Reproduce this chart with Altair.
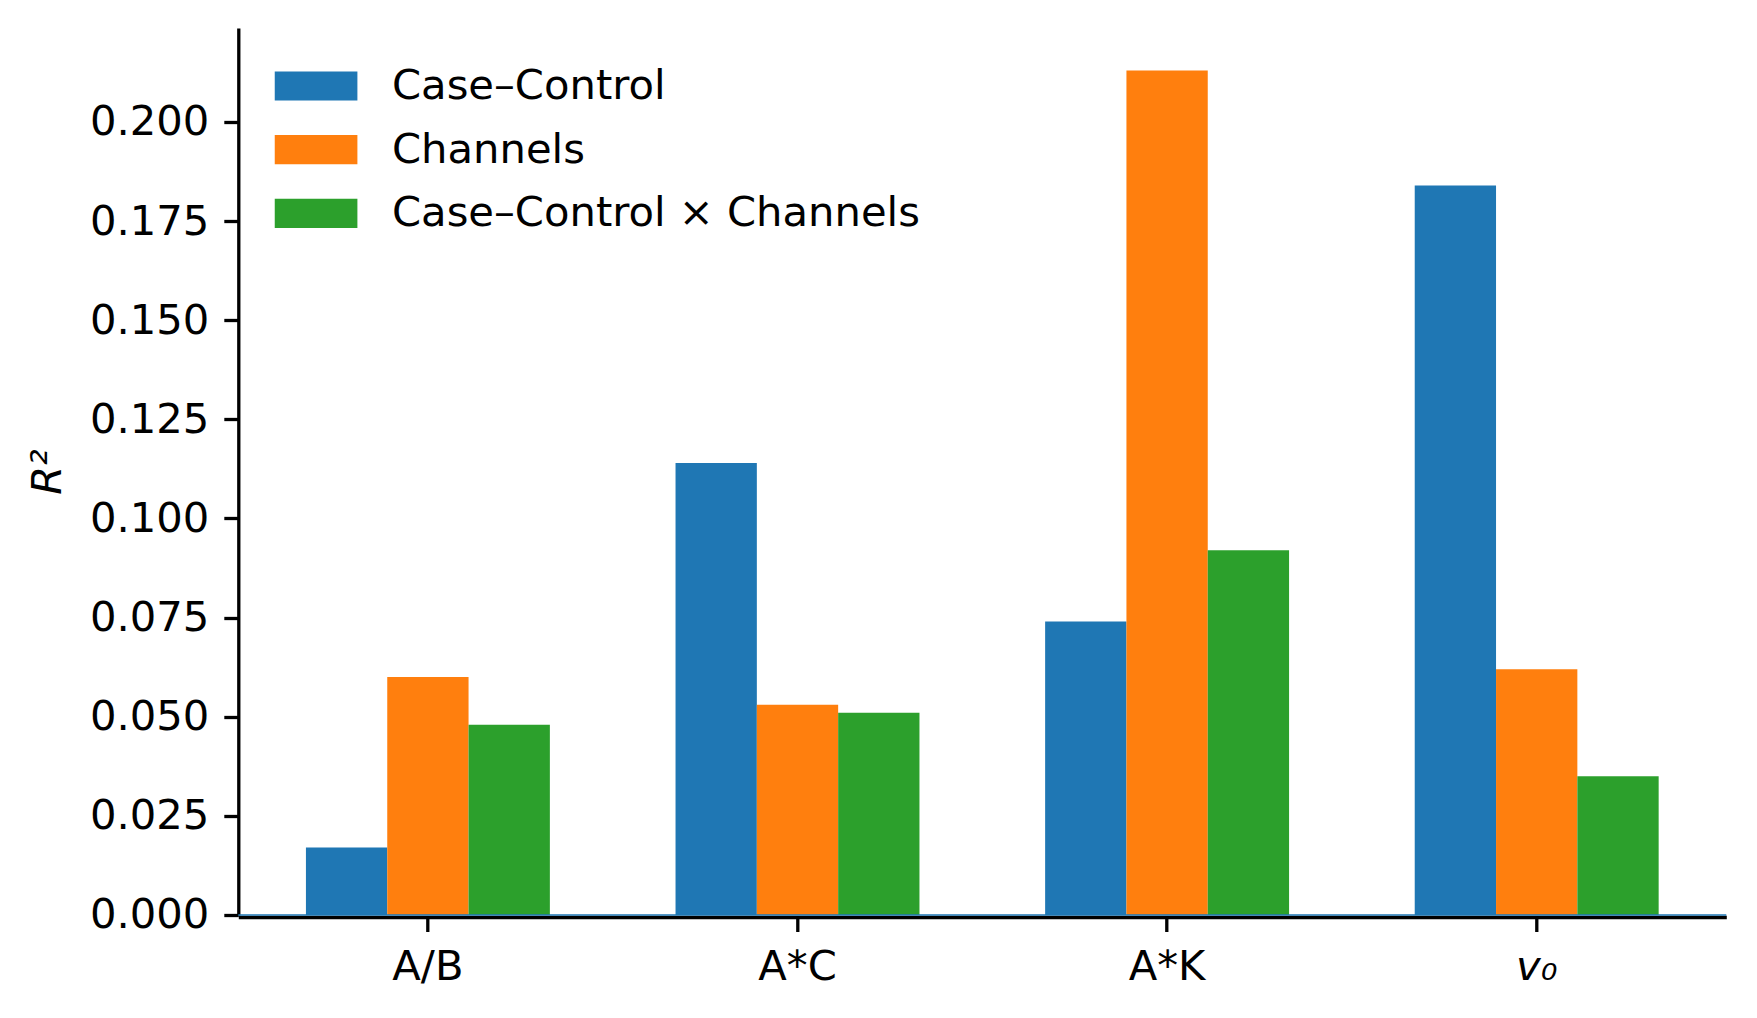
import altair as alt
import pandas as pd

groups = ["A/B", "A*C", "A*K", "v₀"]
series = ["Case–Control", "Channels", "Case–Control × Channels"]
case_control = [0.017, 0.114, 0.074, 0.184]
channels = [0.060, 0.053, 0.213, 0.062]
interaction = [0.048, 0.051, 0.092, 0.035]
colors = ["#1f77b4", "#ff7f0e", "#2ca02c"]
y_ticks = [0.0, 0.025, 0.05, 0.075, 0.1, 0.125, 0.15, 0.175, 0.2]

rows = []
for s, vals in zip(series, [case_control, channels, interaction]):
    for g, v in zip(groups, vals):
        rows.append({"group": g, "series": s, "r2": v})
df = pd.DataFrame(rows)

FONT = "DejaVu Sans"
FS = 41.7

y_axis = alt.Axis(
    values=y_ticks,
    format=".3f",
    title="R²",
    titleFontStyle="italic",
    titleFontWeight="normal",
    titleFontSize=FS,
    titleFont=FONT,
    titleColor="black",
    titlePadding=19.5,
    labelPadding=15,
)
y_scale = alt.Scale(domain=[0, 0.2237], nice=False, zero=True)

bars = alt.Chart(df).mark_bar().encode(
    x=alt.X(
        "group:N",
        sort=groups,
        scale=alt.Scale(paddingInner=0.34, paddingOuter=0.183),
        axis=alt.Axis(
            title=None,
            labelAngle=0,
            labelPadding=15.5,
            offset=2,
            labelFontStyle={"condition": {"test": "datum.value == 'v₀'", "value": "italic"}, "value": "normal"},
        ),
    ),
    xOffset=alt.XOffset("series:N", sort=series, scale=alt.Scale(paddingInner=0, paddingOuter=0)),
    y=alt.Y("r2:Q", scale=y_scale, axis=y_axis),
    color=alt.Color(
        "series:N",
        sort=series,
        scale=alt.Scale(domain=series, range=colors),
        legend=alt.Legend(
            title=None,
            orient="none",
            legendX=36,
            legendY=30,
            symbolType="M-1,-0.53H2V0.53H-1Z",
            symbolSize=3036,
            symbolStrokeWidth=0,
            symbolOpacity=1,
            labelOffset=61.7,
            labelFontSize=FS,
            labelFont=FONT,
            labelColor="black",
            labelLimit=2000,
            rowPadding=13.7,
            padding=0,
        ),
    ),
)

zero_rule = alt.Chart(pd.DataFrame({"r2": [0.0]})).mark_rule(
    color="#1f77b4", strokeWidth=1.5
).encode(y=alt.Y("r2:Q", scale=y_scale, axis=y_axis))

chart = (
    alt.layer(bars, zero_rule)
    .properties(width=1488, height=887, padding={"left": 19.3, "top": 20, "right": 5, "bottom": 5})
    .configure_view(stroke=None)
    .configure_axis(
        grid=False,
        domainColor="black",
        domainWidth=3.3,
        tickColor="black",
        tickWidth=3.3,
        tickSize=14.5,
        labelFontSize=FS,
        labelFont=FONT,
        labelColor="black",
    )
)

chart.save("out.html", embed_options={"renderer": "svg", "actions": False})
